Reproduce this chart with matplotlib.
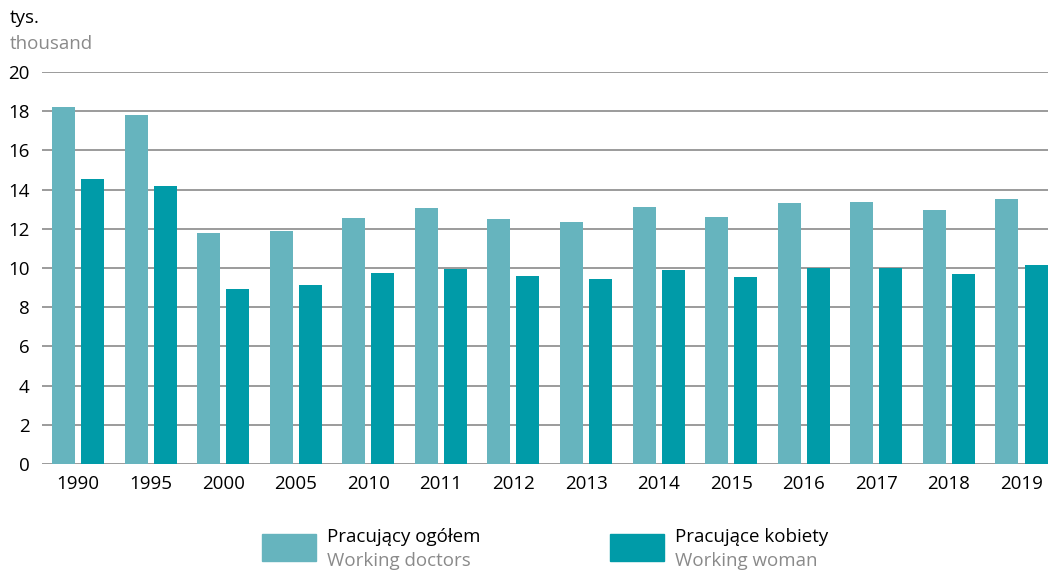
import numpy as np
import matplotlib
matplotlib.use('Agg')
import matplotlib.pyplot as plt
from matplotlib.patches import Rectangle

years = ['1990', '1995', '2000', '2005', '2010', '2011', '2012',
         '2013', '2014', '2015', '2016', '2017', '2018', '2019']
total = [18.2, 17.8, 11.8, 11.9, 12.55, 13.05, 12.5,
         12.35, 13.1, 12.6, 13.3, 13.35, 12.95, 13.5]
women = [14.55, 14.2, 8.95, 9.15, 9.75, 9.97, 9.6,
         9.45, 9.9, 9.55, 10.0, 10.0, 9.7, 10.15]
yticks = [0, 2, 4, 6, 8, 10, 12, 14, 16, 18, 20]

light = '#66B4BE'
dark = '#009BA8'
grey = '#8a8a8a'

plt.rcParams['font.family'] = ['Open Sans', 'DejaVu Sans']

fig = plt.figure(figsize=(10.48, 5.72), dpi=100)
ax = fig.add_axes([0.0401, 0.1888, 0.9599, 0.6853])

x = np.arange(len(years))
w = 0.317
off = 0.2
ax.bar(x - off, total, width=w, color=light, zorder=3)
ax.bar(x + off, women, width=w, color=dark, zorder=3)

ax.set_xlim(-0.496, len(years) - 1 + 0.365)
ax.set_ylim(0, 20)
ax.set_yticks(yticks)
ax.set_xticks(x)
ax.set_xticklabels(years)
ax.tick_params(axis='both', length=0, labelsize=13.5, colors='black')
ax.tick_params(axis='y', pad=9)
ax.tick_params(axis='x', pad=8)
ax.grid(axis='y', color=grey, linewidth=1.2, zorder=0)
for s in ax.spines.values():
    s.set_visible(False)

fig.text(10 / 1048, 1 - 18 / 572, 'tys.', fontsize=13.5, color='black', va='center', ha='left')
fig.text(10 / 1048, 1 - 44 / 572, 'thousand', fontsize=13.5, color=grey, va='center', ha='left')

# legend
legend = [(262, light, 'Pracujący ogółem', 'Working doctors'),
          (610, dark, 'Pracujące kobiety', 'Working woman')]
for px, col, pl, en in legend:
    fig.patches.append(Rectangle((px / 1048, 1 - 561 / 572), 54 / 1048, 27 / 572,
                                 transform=fig.transFigure, color=col))
    fig.text((px + 65) / 1048, 1 - 537 / 572, pl, fontsize=13.5, color='black', va='center')
    fig.text((px + 65) / 1048, 1 - 561 / 572, en, fontsize=13.5, color=grey, va='center')

fig.savefig('out.png', dpi=100)
